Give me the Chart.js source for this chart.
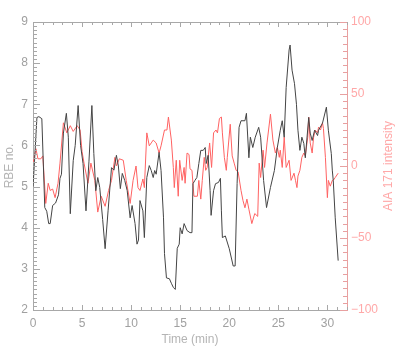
<!DOCTYPE html>
<html>
<head>
<meta charset="utf-8">
<script src="https://cdn.jsdelivr.net/npm/chart.js@4/dist/chart.umd.min.js"></script>
<style>
  body { margin: 0; background: #fff; }
  #wrap { width: 399px; height: 352px; }
</style>
</head>
<body>
<div id="wrap"><canvas id="myChart"></canvas></div>
<script>
// RBE number (black), time in minutes
const rbeTime = [0.0, 0.15, 0.4, 0.6, 0.9, 1.2, 1.4, 1.6, 1.75, 2.0, 2.3, 2.6, 2.75, 2.9, 3.1, 3.4, 3.6, 3.8, 4.1, 4.3, 4.6, 4.85, 5.1, 5.4, 5.7, 6.0, 6.2, 6.4, 6.6, 6.8, 7.1, 7.35, 7.65, 8.0, 8.25, 8.5, 8.7, 8.9, 9.1, 9.35, 9.6, 9.9, 10.1, 10.4, 10.6, 10.75, 10.9, 11.2, 11.35, 11.6, 11.85, 12.05, 12.25, 12.4, 12.55, 12.85, 13.05, 13.3, 13.4, 13.6, 13.9, 14.1, 14.3, 14.5, 14.7, 14.9, 15.0, 15.2, 15.4, 15.7, 16.0, 16.2, 16.3, 16.5, 16.7, 16.9, 17.1, 17.35, 17.55, 17.65, 17.85, 18.05, 18.15, 18.4, 18.6, 18.9, 19.1, 19.2, 19.3, 19.6, 20.0, 20.4, 20.6, 20.8, 21.0, 21.2, 21.4, 21.6, 21.75, 22.0, 22.15, 22.4, 22.65, 23.0, 23.2, 23.5, 23.8, 24.2, 24.6, 24.9, 25.2, 25.4, 25.6, 25.8, 26.1, 26.2, 26.4, 26.65, 26.85, 27.0, 27.2, 27.4, 27.6, 27.75, 28.1, 28.25, 28.45, 28.7, 29.0, 29.1, 29.5, 29.9, 30.1, 30.4, 30.5, 30.6, 30.8, 31.1];
const rbeValues = [5.0, 5.6, 6.68, 6.7, 6.65, 4.49, 4.4, 4.1, 4.1, 4.54, 4.6, 4.8, 5.2, 5.3, 6.3, 6.78, 6.2, 4.34, 5.63, 6.0, 6.97, 6.0, 5.56, 4.41, 5.6, 6.97, 5.8, 4.9, 5.22, 4.98, 4.2, 3.49, 4.41, 5.46, 5.4, 5.76, 5.5, 4.95, 5.32, 5.15, 4.9, 4.24, 4.54, 4.1, 3.6, 3.7, 4.66, 4.41, 3.76, 5.22, 5.51, 5.39, 5.22, 5.39, 5.3, 5.83, 5.39, 4.24, 3.37, 2.78, 2.76, 2.65, 2.55, 2.5, 3.5, 3.6, 4.0, 3.85, 4.1, 3.93, 3.88, 3.88, 5.07, 5.15, 5.22, 5.56, 5.88, 5.88, 5.95, 5.56, 5.76, 4.9, 4.3, 4.9, 5.07, 5.1, 5.2, 4.41, 3.76, 3.8, 3.49, 3.07, 3.07, 5.07, 6.44, 6.6, 6.6, 6.6, 6.78, 5.7, 6.2, 5.95, 6.2, 6.44, 6.2, 5.15, 4.49, 4.98, 5.39, 5.95, 6.37, 6.6, 6.2, 7.41, 8.32, 8.44, 7.83, 7.5, 7.0, 6.37, 5.88, 6.2, 6.05, 5.7, 6.68, 6.3, 6.12, 6.37, 6.24, 6.37, 6.54, 6.93, 6.37, 5.8, 5.4, 5.15, 4.24, 3.2];

// AIA 171 intensity (red)
const aiaTime = [0.0, 0.3, 0.5, 0.8, 1.0, 1.3, 1.55, 1.75, 2.0, 2.25, 2.55, 2.75, 3.1, 3.45, 3.8, 4.1, 4.5, 4.8, 5.0, 5.2, 5.6, 5.9, 6.3, 6.6, 6.95, 7.35, 7.7, 8.0, 8.35, 8.5, 8.8, 9.2, 9.5, 9.9, 10.2, 10.5, 10.7, 10.9, 11.2, 11.35, 11.6, 11.85, 12.05, 12.25, 12.55, 12.85, 13.05, 13.4, 13.65, 13.8, 14.1, 14.3, 14.4, 14.6, 14.8, 14.95, 15.2, 15.4, 15.5, 15.7, 15.9, 16.0, 16.2, 16.4, 16.75, 16.9, 17.1, 17.25, 17.45, 17.6, 17.75, 18.0, 18.2, 18.4, 18.65, 18.8, 19.0, 19.2, 19.3, 19.5, 19.7, 19.8, 20.1, 20.3, 20.5, 20.7, 20.9, 21.2, 21.4, 21.6, 21.8, 22.0, 22.3, 22.6, 22.9, 23.05, 23.2, 23.45, 23.6, 23.85, 24.2, 24.45, 24.7, 24.9, 25.1, 25.2, 25.4, 25.6, 25.8, 26.1, 26.3, 26.6, 26.75, 26.9, 27.0, 27.2, 27.4, 27.6, 27.75, 28.0, 28.1, 28.25, 28.45, 28.6, 28.75, 29.0, 29.1, 29.3, 29.5, 29.6, 29.8, 30.0, 30.1, 30.3, 30.5, 30.6, 30.8, 31.1];
const aiaValues = [2, 12, 5, 5, 7, -26, -12, -17, -16, -22, -12, 2, 30, 23, 28, 24, 28, 25, 10, 2, -12, 2, -10, -32, -21, -28, -17, -10, 6, 0, 5, 4, -10, -26, -10, 0, -15, -17, -9, -15, 23, 14, 16, 18, 16, 9, 14, 25, 25, 34, 18, -1, -15, 4, -21, 4, -10, -1, -12, 9, 8, -2, -3, -21, -21, -10, -23, -10, 6, -3, -1, 16, -1, 23, 25, 23, 33, 34, 23, 6, -3, 6, 29, 7, 2, -3, -4, -17, -24, -29, -23, -30, -40, -33, -35, 2, -8, 11, -1, 16, 36, 18, 9, 13, 6, 11, -1, 20, -1, 4, -10, -5, -10, -15, -7, -3, 6, 9, 7, 20, 34, 16, 9, 20, 25, 23, 27, 25, 30, 26, 6, -22, -10, -14, -10, -10, -8, -5];

const xTicks = [0, 5, 10, 15, 20, 25, 30];
const leftTicks = [2, 3, 4, 5, 6, 7, 8, 9];
const rightTicks = [-100, -50, 0, 50, 100];

const grayAxis = '#a8a8a8';
const grayText = '#a0a0a0';
const pinkAxis = '#e8a0a0';
const pinkText = '#ffa8a8';

function toPoints(xs, ys) {
  return xs.map((x, i) => ({ x: x, y: ys[i] }));
}

// IDL style inward ticks, a top border and the right axis title
const frameTicks = {
  id: 'frameTicks',
  afterDraw(chart) {
    const ctx = chart.ctx;
    const a = chart.chartArea;
    const xs = chart.scales.x;
    const yl = chart.scales.y;
    const yr = chart.scales.y2;
    ctx.save();
    ctx.lineWidth = 1;

    ctx.strokeStyle = grayAxis;
    ctx.beginPath();
    ctx.moveTo(a.left, a.top + 0.5);
    ctx.lineTo(a.right, a.top + 0.5);
    for (let t = 0; t <= 32; t++) {
      const px = Math.round(xs.getPixelForValue(t)) + 0.5;
      const len = t % 5 === 0 ? 5 : 3;
      ctx.moveTo(px, a.bottom);
      ctx.lineTo(px, a.bottom - len);
      ctx.moveTo(px, a.top);
      ctx.lineTo(px, a.top + len);
    }
    for (let i = 20; i <= 90; i++) {
      const py = Math.round(yl.getPixelForValue(i / 10)) + 0.5;
      const len = i % 10 === 0 ? 7 : 4;
      ctx.moveTo(a.left, py);
      ctx.lineTo(a.left + len, py);
    }
    ctx.stroke();

    ctx.strokeStyle = pinkAxis;
    ctx.beginPath();
    for (let v = -100; v <= 100; v += 5) {
      const py = Math.round(yr.getPixelForValue(v)) + 0.5;
      const len = v % 50 === 0 ? 7 : 4;
      ctx.moveTo(a.right, py);
      ctx.lineTo(a.right - len, py);
    }
    ctx.stroke();

    ctx.fillStyle = pinkText;
    ctx.font = '12px "Liberation Sans", sans-serif';
    ctx.textAlign = 'center';
    ctx.textBaseline = 'middle';
    ctx.translate(389, (a.top + a.bottom) / 2);
    ctx.rotate(-Math.PI / 2);
    ctx.fillText('AIA 171 intensity', 0, 0);
    ctx.restore();
  }
};

function makeChart() {
  const ctx = document.getElementById('myChart').getContext('2d');
  const font = { family: '"Liberation Sans", sans-serif', size: 12 };

  new Chart(ctx, {
    type: 'line',
    data: {
      datasets: [
        {
          label: 'RBE no.',
          data: toPoints(rbeTime, rbeValues),
          yAxisID: 'y',
          borderColor: '#444444',
          borderWidth: 1,
          pointRadius: 0,
          tension: 0
        },
        {
          label: 'AIA 171 intensity',
          data: toPoints(aiaTime, aiaValues),
          yAxisID: 'y2',
          borderColor: '#ff6262',
          borderWidth: 1,
          pointRadius: 0,
          tension: 0
        }
      ]
    },
    options: {
      responsive: true,
      maintainAspectRatio: false,
      animation: false,
      layout: { padding: { top: 22, left: 0, right: 0, bottom: 0 } },
      plugins: { legend: { display: false }, tooltip: { enabled: false } },
      scales: {
        x: {
          type: 'linear',
          min: 0,
          max: 32,
          afterBuildTicks: s => { s.ticks = xTicks.map(v => ({ value: v })); },
          afterFit: s => { s.height = 42; },
          grid: { display: false, drawTicks: false },
          border: { color: grayAxis },
          ticks: { color: grayText, font: font, padding: 6, maxRotation: 0 },
          title: { display: true, text: 'Time (min)', color: '#b4b4b4', font: font, padding: { top: 0, bottom: 5 } }
        },
        y: {
          position: 'left',
          min: 2,
          max: 9,
          afterBuildTicks: s => { s.ticks = leftTicks.map(v => ({ value: v })); },
          afterFit: s => { s.width = 33; },
          grid: { display: false, drawTicks: false },
          border: { color: grayAxis },
          ticks: { color: grayText, font: font, padding: 5 },
          title: { display: true, text: 'RBE no.', color: '#b4b4b4', font: font, padding: { top: 2, bottom: 0 } }
        },
        y2: {
          position: 'right',
          min: -100,
          max: 100,
          afterBuildTicks: s => { s.ticks = rightTicks.map(v => ({ value: v })); },
          afterFit: s => { s.width = 52; },
          grid: { display: false, drawTicks: false },
          border: { color: pinkAxis },
          ticks: {
            color: pinkText,
            font: font,
            padding: 4,
            callback: v => (v < 0 ? '\u2212' + Math.abs(v) : String(v))
          }
        }
      }
    },
    plugins: [frameTicks]
  });
}

window.onload = function() {
  makeChart();
}
</script>
</body>
</html>
